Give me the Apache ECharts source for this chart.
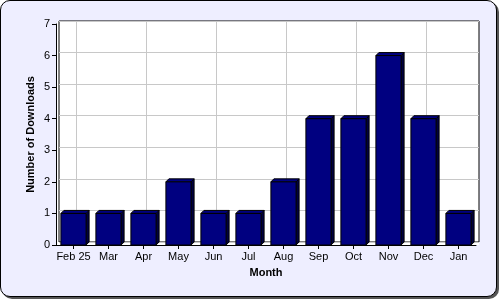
<!DOCTYPE html>
<html>
<head>
<meta charset="utf-8">
<script src="https://cdn.jsdelivr.net/npm/echarts@6/dist/echarts.min.js"></script>
<style>
html,body{margin:0;padding:0;background:#ffffff;}
#frame{position:absolute;left:0;top:0;width:495px;height:295px;border:1px solid #000;border-radius:10px;background:#eeeeff;box-shadow:2px 2px 0 #555;}
#chart{position:absolute;left:0;top:0;width:500px;height:300px;}
</style>
</head>
<body>
<div id="frame"></div>
<div id="chart"></div>
<script>
const categories = ['Feb 25','Mar','Apr','May','Jun','Jul','Aug','Sep','Oct','Nov','Dec','Jan'];
const downloads = [1,1,1,2,1,1,2,4,4,6,4,1];
const yTicks = [0,1,2,3,4,5,6,7];

const chart = echarts.init(document.getElementById('chart'), null, {renderer:'canvas'});
const DEPTH = 3;
const FONT = 'Arial, "Liberation Sans", sans-serif';

function renderBar(params, api){
  const xi = api.value(0), v = api.value(1);
  const top = api.coord([xi, v]);
  const base = api.coord([xi, 0]);
  const bw = api.size([1,0])[0]*0.72;
  const x0 = top[0]-bw/2, y0 = top[1], y1 = base[1];
  const d = DEPTH;
  return {
    type:'group',
    children:[
      {type:'polygon', shape:{points:[[x0+bw,y0],[x0+bw+d,y0-d],[x0+bw+d,y1-d],[x0+bw,y1]]},
        style:{fill:'#000040', stroke:'#000', lineWidth:1}},
      {type:'polygon', shape:{points:[[x0,y0],[x0+d,y0-d],[x0+bw+d,y0-d],[x0+bw,y0]]},
        style:{fill:'#000080', stroke:'#000', lineWidth:1}},
      {type:'rect', shape:{x:x0, y:y0, width:bw, height:y1-y0},
        style:{fill:'#000080', stroke:'#000', lineWidth:1}}
    ]
  };
}

const option = {
  animation:false,
  grid:[
    {left:57, right:21, top:21, bottom:55, show:true, backgroundColor:'#ffffff', borderWidth:0},
    {left:59, right:21, top:21, bottom:58, show:true, backgroundColor:'#ffffff', borderColor:'#000', borderWidth:1},
    {left:56, right:24, top:24, bottom:55}
  ],
  xAxis:[
    {gridIndex:0, type:'category', data:categories, show:false},
    {gridIndex:1, type:'category', data:categories, axisLine:{show:false}, axisTick:{show:false}, axisLabel:{show:false},
      splitLine:{show:true, alignWithLabel:true, lineStyle:{color:'#c8c8c8', width:1}}},
    {gridIndex:2, type:'category', data:categories,
      axisLine:{show:true, lineStyle:{color:'#000', width:1}},
      axisTick:{show:true, alignWithLabel:true, length:4, lineStyle:{color:'#000'}},
      axisLabel:{color:'#000', fontSize:11, fontFamily:FONT, margin:6, interval:0},
      splitLine:{show:false},
      name:'Month', nameLocation:'middle', nameGap:22, nameMoveOverlap:false,
      nameTextStyle:{color:'#000', fontSize:11, fontWeight:'bold', fontFamily:FONT}}
  ],
  yAxis:[
    {gridIndex:0, type:'value', min:0, max:7, interval:1, show:false},
    {gridIndex:1, type:'value', min:0, max:7, interval:1, axisLine:{show:false}, axisTick:{show:false}, axisLabel:{show:false},
      splitLine:{show:true, lineStyle:{color:'#c8c8c8', width:1}}},
    {gridIndex:2, type:'value', min:0, max:7, interval:1,
      axisLine:{show:true, lineStyle:{color:'#000', width:1}},
      axisTick:{show:true, length:4, lineStyle:{color:'#000'}},
      axisLabel:{color:'#000', fontSize:11, fontFamily:FONT, margin:6,
        formatter:function(v){ return yTicks.indexOf(v)>=0 ? String(v) : ''; }},
      splitLine:{show:false},
      name:'Number of Downloads', nameLocation:'middle', nameGap:20, nameRotate:90, nameMoveOverlap:false,
      nameTextStyle:{color:'#000', fontSize:11, fontWeight:'bold', fontFamily:FONT}}
  ],
  series:[
    {type:'custom', xAxisIndex:2, yAxisIndex:2, renderItem:renderBar,
      data: downloads.map(function(v,i){ return [i, v]; }), encode:{x:0, y:1}}
  ]
};
chart.setOption(option);
</script>
</body>
</html>
